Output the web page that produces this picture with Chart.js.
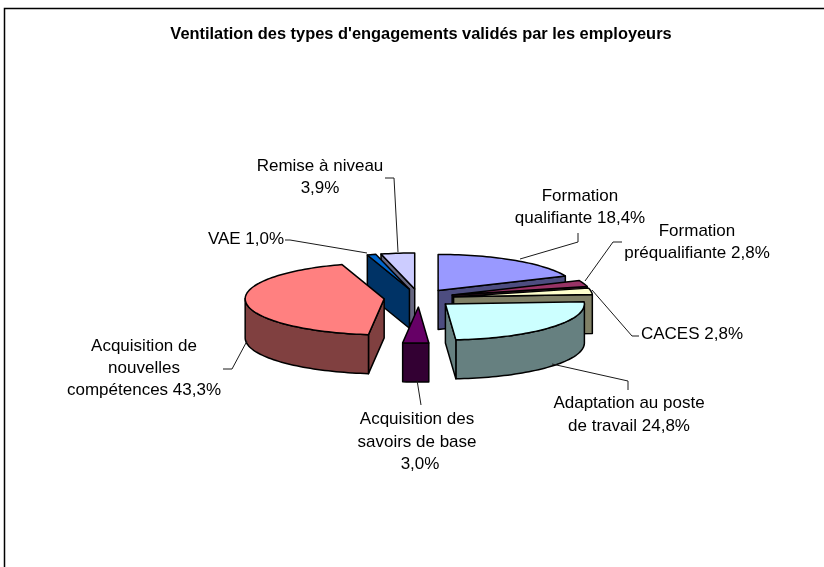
<!DOCTYPE html>
<html lang="fr">
<head>
<meta charset="utf-8">
<style>html,body{margin:0;padding:0;background:#fff}canvas{display:block}</style>
<script src="https://cdn.jsdelivr.net/npm/chart.js@4/dist/chart.umd.min.js"></script>
</head>
<body>
<canvas id="c" width="824" height="567"></canvas>
<script>
const titleText = "Ventilation des types d'engagements validés par les employeurs";
const categories = ['Formation qualifiante','Formation préqualifiante','CACES','Adaptation au poste de travail','Acquisition des savoirs de base','Acquisition de nouvelles compétences','VAE','Remise à niveau'];
const values = [18.4,2.8,2.8,24.8,3.0,43.3,1.0,3.9];
const topColors = ['#9999FF','#993366','#FFFFCC','#CCFFFF','#660066','#FF8080','#0066CC','#CCCCFF'];
const wallColors = ['#4D4D80','#4D1A33','#808066','#668080','#330033','#804040','#003366','#666680'];
const labelLines = [
  ['Formation','qualifiante 18,4%'],
  ['Formation','préqualifiante 2,8%'],
  ['CACES 2,8%'],
  ['Adaptation au poste','de travail 24,8%'],
  ['Acquisition des','savoirs de base','3,0%'],
  ['Acquisition de','nouvelles','compétences 43,3%'],
  ['VAE 1,0%'],
  ['Remise à niveau','3,9%']
];
const labelAnchors = [
  [[580,196],[580,218]],
  [[697,231],[697,253]],
  [[692,334]],
  [[629,403],[629,426]],
  [[417,419],[417,442],[420,464]],
  [[144,346],[144,368],[144,390]],
  [[246,239]],
  [[320,166],[320,188]]
];
const leaders = [
  [[520,259],[578,242],[578,233]],
  [[585,281],[613,242],[622,242]],
  [[592,290],[632,336],[639,336]],
  [[552,364],[628,381],[628,390]],
  [[417,380],[421,405]],
  [[247,341],[232,369],[223,369]],
  [[367,253],[290,240],[285,240]],
  [[398,252],[394,178],[385,178]]
];

const CX = 419, CY = 298, RADIUS = 139, SQUASH = 0.259, EXPLODE = 35, DEPTH = 39;
const FONT = '17px "Liberation Sans", Arial, sans-serif';

const pie3d = {
  id: 'pie3d',
  beforeDraw(chart) {
    const c = chart.ctx;
    c.save();
    c.fillStyle = '#fff';
    c.fillRect(0, 0, chart.width, chart.height);
    c.strokeStyle = '#000';
    c.lineWidth = 1.5;
    c.beginPath();
    c.moveTo(4.5, chart.height);
    c.lineTo(4.5, 8.5);
    c.lineTo(chart.width, 8.5);
    c.stroke();
    c.restore();
  },
  beforeDatasetDraw(chart) {
    const c = chart.ctx;
    const arcs = chart.getDatasetMeta(0).data;
    const order = arcs.map((a, i) => i).sort((i, j) => {
      const m = k => Math.sin((arcs[k].startAngle + arcs[k].endAngle) / 2);
      return m(i) - m(j);
    });
    c.save();
    c.lineJoin = 'round';
    c.lineWidth = 1.5;
    c.strokeStyle = '#000';
    for (const i of order) {
      const a = arcs[i];
      const mid = (a.startAngle + a.endAngle) / 2;
      const ox = CX + EXPLODE * Math.cos(mid);
      const oy = CY + SQUASH * EXPLODE * Math.sin(mid);
      const pts = [[ox, oy]];
      const n = Math.max(2, Math.ceil((a.endAngle - a.startAngle) / 0.03));
      for (let k = 0; k <= n; k++) {
        const t = a.startAngle + (a.endAngle - a.startAngle) * k / n;
        pts.push([ox + a.outerRadius * Math.cos(t), oy + SQUASH * a.outerRadius * Math.sin(t)]);
      }
      pts.push([ox, oy]);
      // visible side faces: runs of edges heading left on screen; straight cuts stand alone
      const faces = [];
      let run = null;
      for (let k = 0; k < pts.length - 1; k++) {
        const visible = pts[k + 1][0] - pts[k][0] < -1e-6;
        const straight = k === 0 || k === pts.length - 2;
        if (visible) {
          if (run && !straight && !run.straight) run.pts.push(pts[k + 1]);
          else { run = {straight, pts: [pts[k], pts[k + 1]]}; faces.push(run); }
        } else run = null;
      }
      c.fillStyle = wallColors[i];
      for (const f of faces) {
        c.beginPath();
        f.pts.forEach((p, k) => k ? c.lineTo(p[0], p[1]) : c.moveTo(p[0], p[1]));
        for (let k = f.pts.length - 1; k >= 0; k--) c.lineTo(f.pts[k][0], f.pts[k][1] + DEPTH);
        c.closePath();
        c.fill();
        c.stroke();
      }
      // top face drawn by the library's arc element
      c.save();
      c.translate(ox, oy);
      c.scale(1, SQUASH);
      c.translate(-a.x, -a.y);
      a.draw(c);
      c.restore();
      c.beginPath();
      pts.forEach((p, k) => k ? c.lineTo(p[0], p[1]) : c.moveTo(p[0], p[1]));
      c.closePath();
      c.stroke();
    }
    c.restore();
    return false;
  },
  afterDatasetsDraw(chart) {
    const c = chart.ctx;
    c.save();
    c.strokeStyle = '#1a1a1a';
    c.lineWidth = 1;
    for (const l of leaders) {
      c.beginPath();
      l.forEach((p, k) => k ? c.lineTo(p[0], p[1]) : c.moveTo(p[0], p[1]));
      c.stroke();
    }
    c.fillStyle = '#000';
    c.font = FONT;
    c.textAlign = 'center';
    c.textBaseline = 'middle';
    labelLines.forEach((lines, i) => lines.forEach((t, k) => {
      c.fillText(t, labelAnchors[i][k][0], labelAnchors[i][k][1]);
    }));
    c.restore();
  }
};

new Chart(document.getElementById('c'), {
  type: 'pie',
  data: {
    labels: categories,
    datasets: [{data: values, backgroundColor: topColors, borderWidth: 0, radius: RADIUS}]
  },
  options: {
    responsive: false,
    animation: false,
    events: [],
    layout: {padding: {left: 18}},
    plugins: {
      legend: {display: false},
      tooltip: {enabled: false},
      title: {
        display: true,
        text: titleText,
        fullSize: false,
        color: '#000',
        font: {family: '"Liberation Sans", Arial, sans-serif', size: 16.4, weight: 'bold', lineHeight: 1.2},
        padding: {top: 25, bottom: 10}
      }
    }
  },
  plugins: [pie3d]
});
</script>
</body>
</html>
